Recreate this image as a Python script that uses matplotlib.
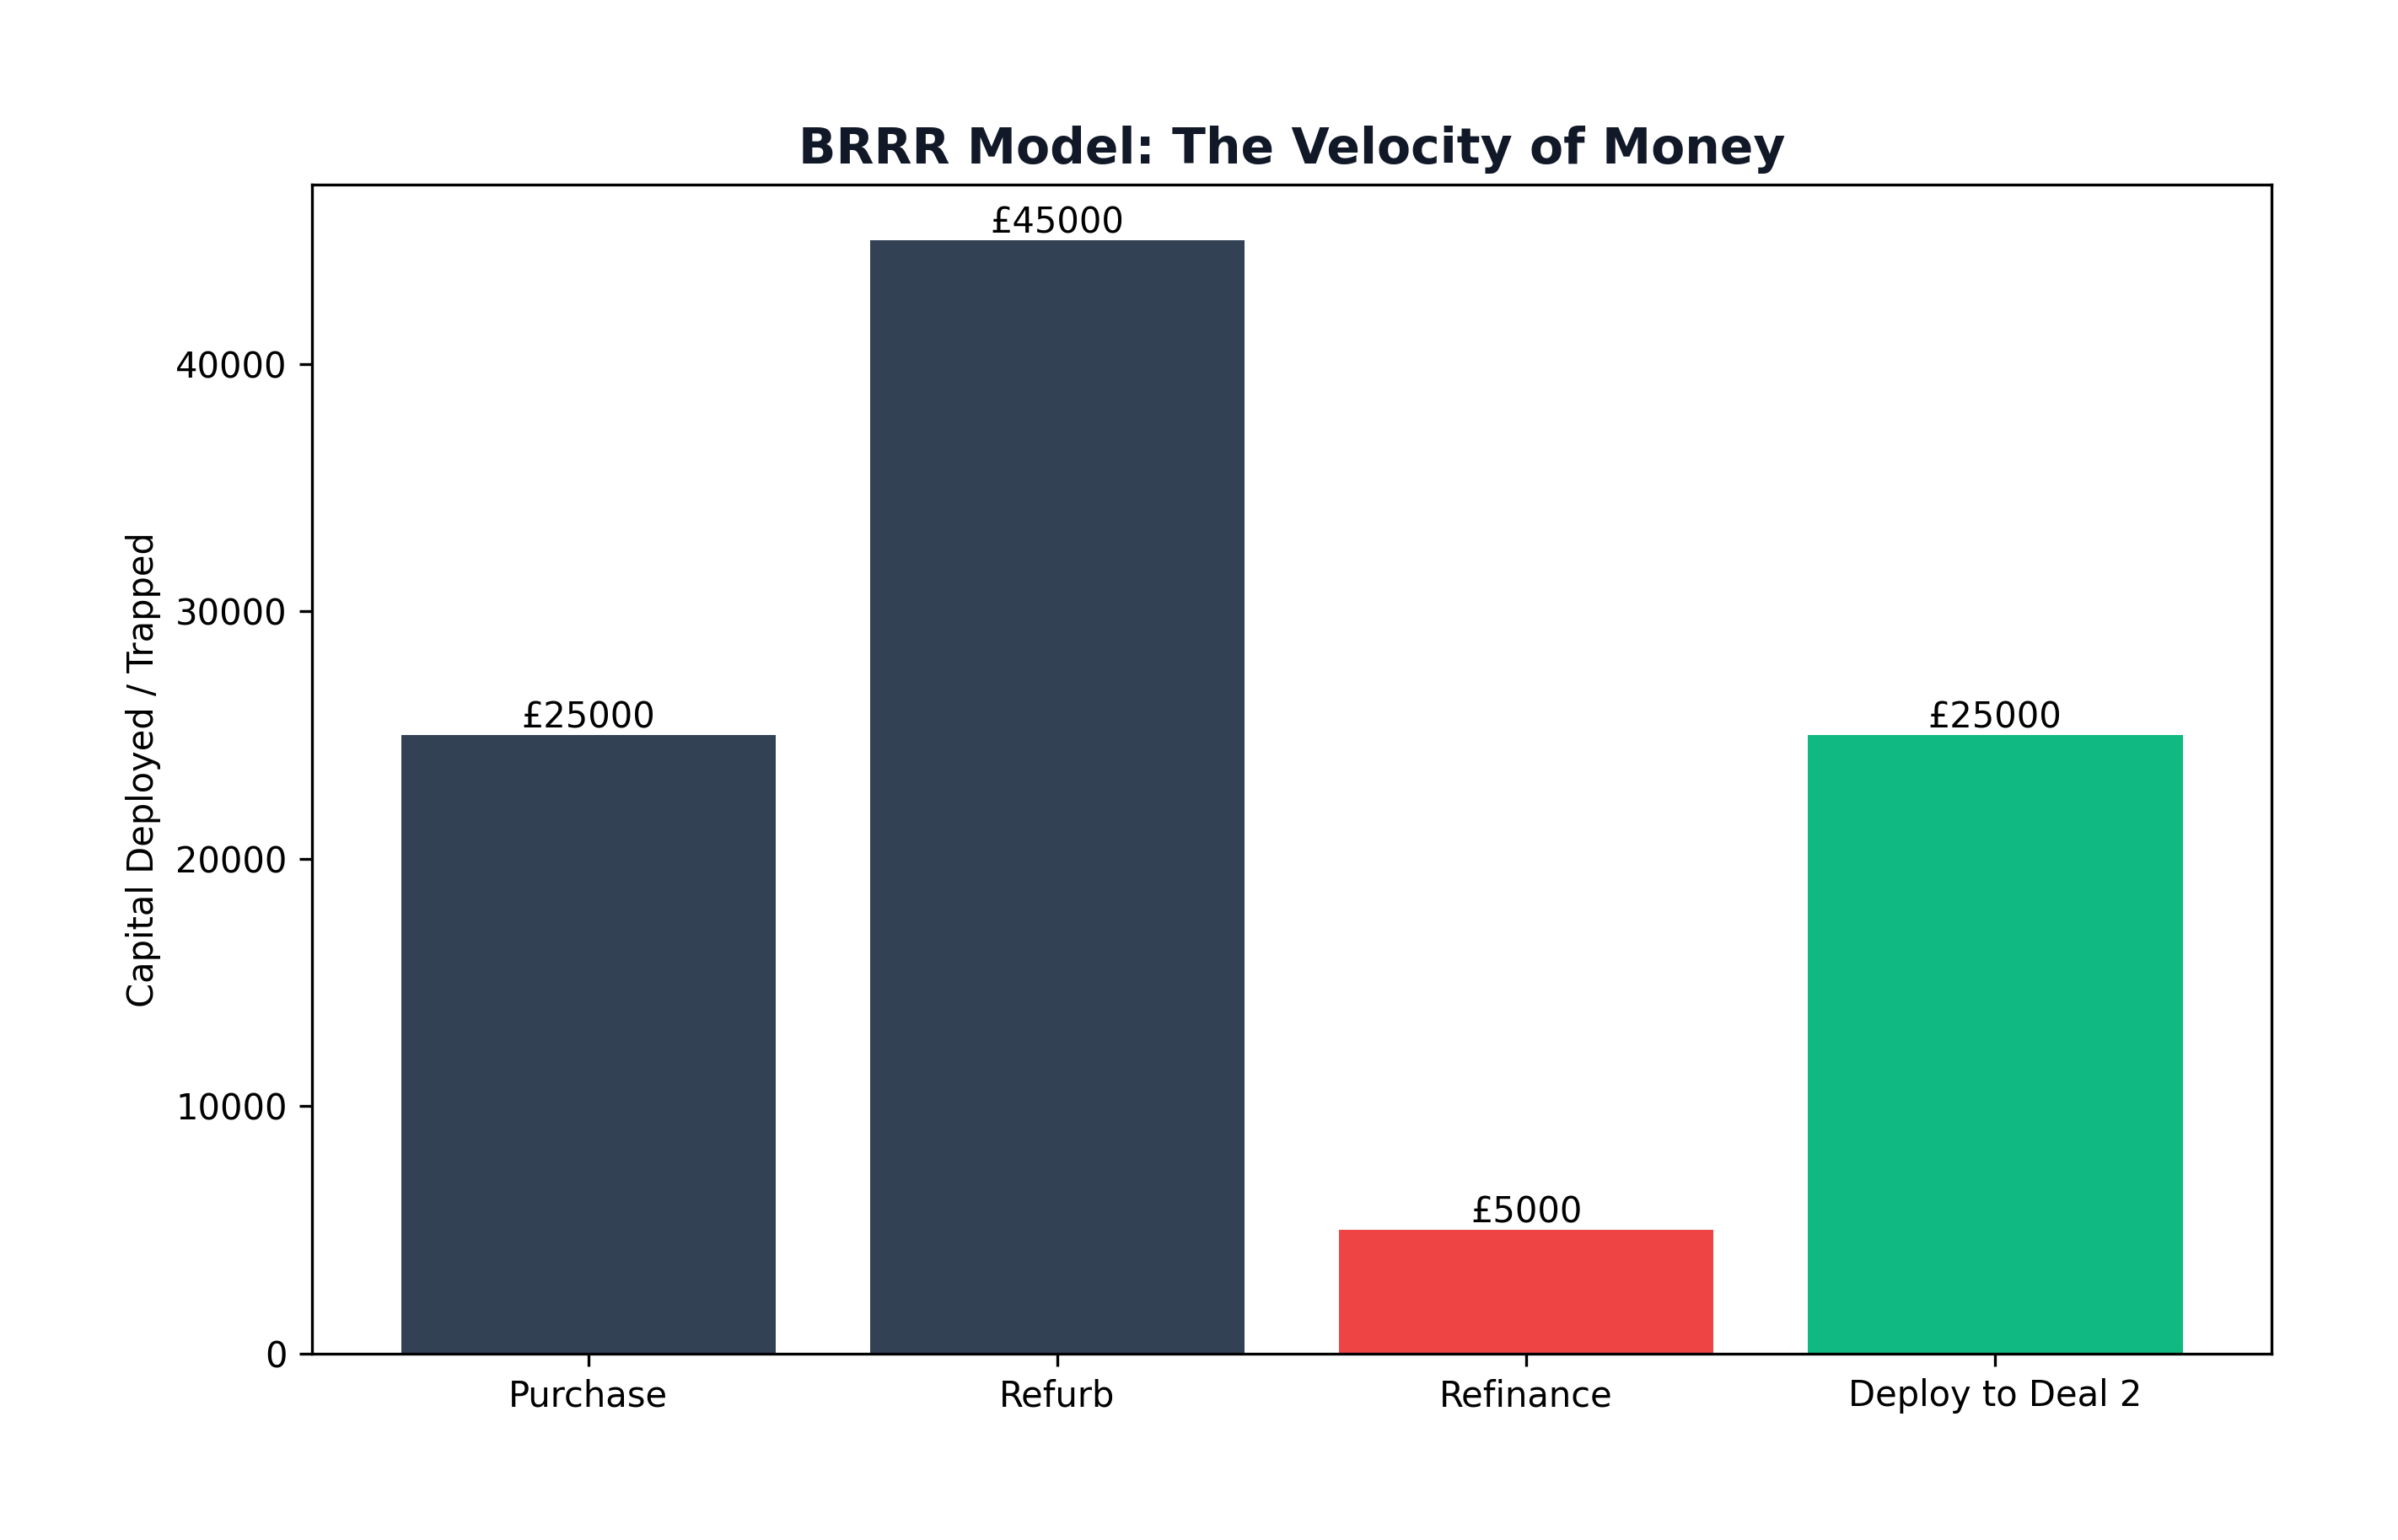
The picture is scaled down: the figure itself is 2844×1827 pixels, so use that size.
import matplotlib
matplotlib.use('Agg')
from matplotlib import pyplot as plt

stages = ['Purchase', 'Refurb', 'Refinance', 'Deploy to Deal 2']
capital = [25000, 45000, 5000, 25000]
colors = ['#334155', '#334155', '#ef4444', '#10b981']

fig = plt.figure(figsize=(2845 / 300, 1827 / 300), dpi=300)
ax = fig.add_axes([0.130, 0.121, 0.817, 0.759])

bars = ax.bar(stages, capital, color=colors)
for b, v in zip(bars, capital):
    ax.text(b.get_x() + b.get_width() / 2, v, f'£{v}', ha='center', va='bottom', fontsize=10)

ax.set_ylabel('Capital Deployed / Trapped')
ax.set_title('BRRR Model: The Velocity of Money', fontsize=14, fontweight='bold', color='#111827')

fig.savefig('out.png', dpi=300)
